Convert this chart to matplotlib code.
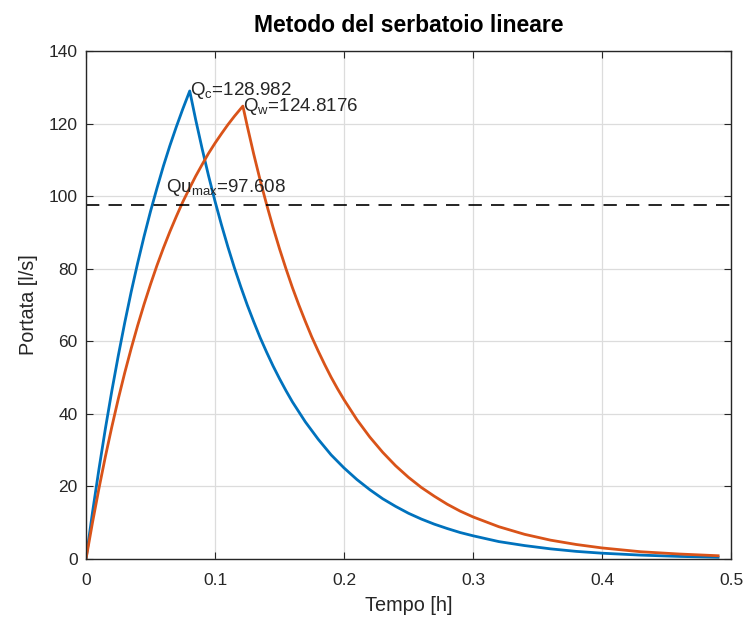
import numpy as np
import matplotlib
matplotlib.use('Agg')
import matplotlib.pyplot as plt

# idrogrammi (tempo in h, portata in l/s)
t_c = [0, 0.005, 0.01, 0.015, 0.02, 0.025, 0.03, 0.035, 0.04, 0.045, 0.05, 0.055,
       0.06, 0.065, 0.07, 0.075, 0.0804,
       0.085, 0.09, 0.095, 0.10, 0.105, 0.11, 0.115, 0.12, 0.125, 0.13, 0.135,
       0.14, 0.145, 0.15, 0.155, 0.16, 0.17, 0.18, 0.19, 0.20, 0.21, 0.22, 0.23,
       0.24, 0.25, 0.26, 0.27, 0.28, 0.29, 0.30, 0.32, 0.34, 0.36, 0.38, 0.40,
       0.43, 0.46, 0.49]
q_c = [0, 12.8, 24.7, 35.9, 46.3, 56.0, 65.1, 73.6, 81.5, 88.9, 95.8, 102.2,
       108.3, 113.9, 119.1, 124.0, 128.982,
       121.1, 113.1, 105.6, 98.6, 92.1, 86.0, 80.3, 75.0, 70.0, 65.4, 61.0,
       57.0, 53.2, 49.7, 46.4, 43.3, 37.8, 33.0, 28.7, 25.1, 21.9, 19.1, 16.6,
       14.5, 12.6, 11.0, 9.6, 8.4, 7.3, 6.4, 4.8, 3.7, 2.8, 2.1, 1.6,
       1.07, 0.71, 0.47]

t_w = [0, 0.005, 0.01, 0.015, 0.02, 0.025, 0.03, 0.035, 0.04, 0.045, 0.05, 0.055,
       0.06, 0.065, 0.07, 0.075, 0.08, 0.085, 0.09, 0.095, 0.10, 0.105, 0.11,
       0.115, 0.1216,
       0.125, 0.13, 0.135, 0.14, 0.145, 0.15, 0.155, 0.16, 0.165, 0.17, 0.175,
       0.18, 0.185, 0.19, 0.195, 0.20, 0.21, 0.22, 0.23, 0.24, 0.25, 0.26, 0.27,
       0.28, 0.29, 0.30, 0.32, 0.34, 0.36, 0.38, 0.40, 0.43, 0.46, 0.49]
q_w = [0, 10.0, 19.4, 28.2, 36.4, 44.1, 51.3, 58.0, 64.3, 70.2, 75.7, 80.9,
       85.7, 90.2, 94.4, 98.4, 102.0, 105.5, 108.7, 111.8, 114.6, 117.2, 119.7,
       122.0, 124.8176,
       119.3, 111.6, 104.4, 97.7, 91.4, 85.5, 80.0, 74.8, 70.0, 65.5, 61.2,
       57.3, 53.6, 50.1, 46.9, 43.9, 38.4, 33.6, 29.4, 25.7, 22.5, 19.7, 17.3,
       15.1, 13.2, 11.6, 8.9, 6.8, 5.2, 4.0, 3.05, 2.0, 1.37, 0.9]

qu_max = 97.608
peak_c = (0.0804, 128.982)
peak_w = (0.1216, 124.8176)

plt.rcParams['font.family'] = ['Liberation Sans', 'DejaVu Sans']
dark = '#262626'

fig = plt.figure(figsize=(7.46, 6.25), dpi=100)
ax = fig.add_axes([0.1153, 0.1056, 0.8646, 0.8128])

ax.plot(t_c, q_c, color='#0072BD', lw=2.0)
ax.plot(t_w, q_w, color='#D95319', lw=2.0)
ax.axhline(qu_max, color='black', lw=1.2, ls=(0, (8, 5.5)))

ax.text(peak_c[0], peak_c[1], r'Q$_\mathregular{c}$=128.982', fontsize=13.5,
        color=dark, va='center', ha='left')
ax.text(peak_w[0], peak_w[1], r'Q$_\mathregular{w}$=124.8176', fontsize=13.5,
        color=dark, va='center', ha='left')
ax.text(0.062, 102.3, r'Qu$_\mathregular{max}$=97.608', fontsize=13.5,
        color=dark, va='center', ha='left')

ax.set_xlim(0, 0.5)
ax.set_ylim(0, 140)
ax.set_xticks([0, 0.1, 0.2, 0.3, 0.4, 0.5])
ax.set_xticklabels(['0', '0.1', '0.2', '0.3', '0.4', '0.5'])
ax.set_yticks(np.arange(0, 141, 20))
ax.grid(True, color='#dcdcdc', lw=0.9)
ax.set_axisbelow(True)
ax.tick_params(direction='in', top=True, right=True, labelsize=12.5,
               colors=dark, length=5)
ax.tick_params(axis='x', pad=10)
ax.tick_params(axis='y', pad=6)
for s in ax.spines.values():
    s.set_color(dark)
    s.set_linewidth(1.0)

ax.set_xlabel('Tempo [h]', fontsize=14.3, color=dark, labelpad=6)
ax.set_ylabel('Portata [l/s]', fontsize=14.3, color=dark, labelpad=8)
ax.set_title('Metodo del serbatoio lineare', fontsize=16.5, fontweight='bold',
             color='black', pad=14)

fig.savefig('out.png', dpi=100)
